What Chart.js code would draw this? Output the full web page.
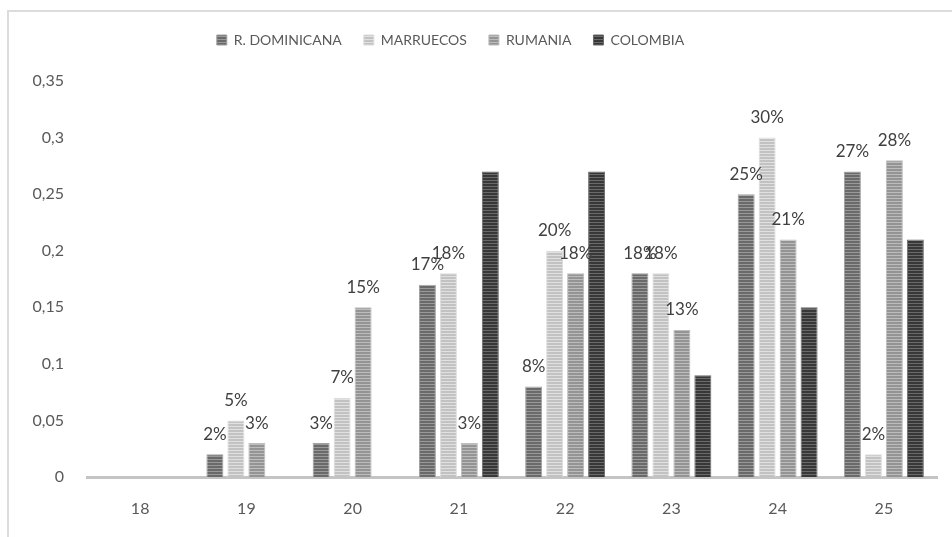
<!DOCTYPE html>
<html><head><meta charset="utf-8">
<script src="https://cdn.jsdelivr.net/npm/chart.js@4.4.0/dist/chart.umd.min.js"></script>
<style>html,body{margin:0;padding:0;background:#fff;}#wrap{width:952px;height:537px;position:relative;}</style>
</head><body><div id="wrap"><canvas id="c" width="952" height="537"></canvas></div>
<script>
const categories = ['18','19','20','21','22','23','24','25'];
const seriesNames = ['R. DOMINICANA','MARRUECOS','RUMANIA','COLOMBIA'];
const dominicana = [0,0.02,0.03,0.17,0.08,0.18,0.25,0.27];
const marruecos  = [0,0.05,0.07,0.18,0.20,0.18,0.30,0.02];
const rumania    = [0,0.03,0.15,0.03,0.18,0.13,0.21,0.28];
const colombia   = [0,0,0,0.27,0.27,0.09,0.15,0.21];
const yTicks = [0,0.05,0.1,0.15,0.2,0.25,0.3,0.35];

function stripe(dark, light){
  const p = document.createElement('canvas'); p.width = 4; p.height = 3;
  const g = p.getContext('2d');
  g.fillStyle = dark; g.fillRect(0,0,4,3);
  g.fillStyle = light; g.fillRect(0,0,4,1);
  return g.createPattern(p,'repeat');
}
const ctx = document.getElementById('c').getContext('2d');
const fills = [
  stripe('#6a6a6a','#999999'),
  stripe('#c2c2c2','#e0e0e0'),
  stripe('#949494','#bcbcbc'),
  stripe('#383838','#6a6a6a')
];
const edges = ['#a0a0a0','#dddddd','#bdbdbd','#6a6a6a'];
const FONT = 'Lato, "Open Sans", sans-serif';

const frame = {
  id:'frame',
  beforeDraw(chart){
    const c = chart.ctx; c.save();
    c.fillStyle = '#fff'; c.fillRect(0,0,chart.width,chart.height);
    c.strokeStyle = '#dcdcdc'; c.lineWidth = 2;
    c.beginPath(); c.moveTo(8,chart.height); c.lineTo(8,11); c.lineTo(chart.width,11); c.stroke();
    c.restore();
  }
};
const labels = {
  id:'barLabels',
  afterDatasetsDraw(chart){
    const c = chart.ctx; c.save();
    c.font = '17px ' + FONT; c.fillStyle = '#404040';
    c.textAlign = 'center'; c.textBaseline = 'middle';
    chart.data.datasets.forEach((ds,i)=>{
      if(!ds.showLabels) return;
      chart.getDatasetMeta(i).data.forEach((bar,j)=>{
        const v = ds.data[j];
        if(!v) return;
        c.fillText(Math.round(v*100)+'%', bar.x, bar.y - 20);
      });
    });
    c.restore();
  }
};

const seriesData = [dominicana, marruecos, rumania, colombia];
const chart = new Chart(ctx,{
  type:'bar',
  data:{
    labels: categories,
    datasets: seriesData.map((d,i)=>({
      label: seriesNames[i], data: d,
      backgroundColor: fills[i], borderColor: edges[i], borderWidth: 1,
      showLabels: i < 3,
      categoryPercentage: 0.79, barPercentage: 0.81
    }))
  },
  options:{
    responsive:false, animation:false,
    layout:{padding:{top:11, left:0, right:15, bottom:0}},
    plugins:{
      legend:{
        position:'top',
        labels:{boxWidth:10, boxHeight:10, padding:22, color:'#595959', font:{family:FONT, size:14}}
      },
      tooltip:{enabled:false}
    },
    scales:{
      x:{
        afterFit(s){ s.height = 60; },
        grid:{display:false, drawTicks:false},
        border:{display:true, color:'#c4c4c4', width:3},
        ticks:{color:'#595959', padding:22, font:{family:FONT, size:16}}
      },
      y:{
        min:0, max:0.35,
        afterFit(s){ s.width = 87; },
        afterBuildTicks(s){ s.ticks = yTicks.map(v=>({value:v})); },
        grid:{display:false, drawTicks:false},
        border:{display:false},
        ticks:{color:'#595959', padding:23, font:{family:FONT, size:16},
          callback:(v)=>String(+v.toFixed(2)).replace('.',',')}
      }
    }
  },
  plugins:[frame, labels]
});
const origFit = chart.legend.fit;
chart.legend.fit = function(){ origFit.call(this); this.height += 24; };
const origDraw = chart.legend.draw;
chart.legend.draw = function(){
  const c = this.ctx; c.save(); c.translate(-18,0); origDraw.call(this); c.restore();
};
chart.update();
</script></body></html>
